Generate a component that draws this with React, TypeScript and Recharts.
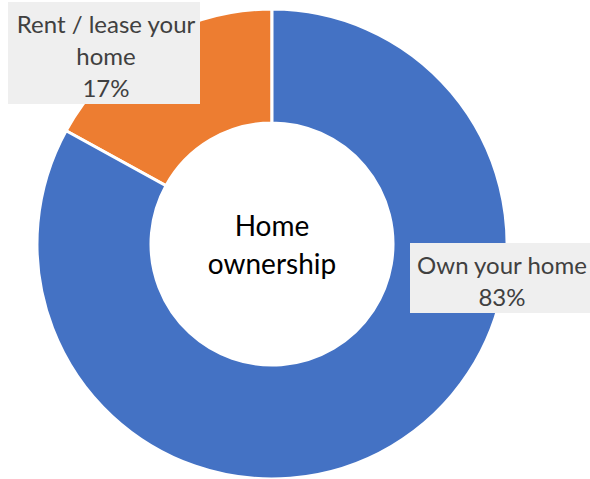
import { PieChart, Pie, Cell } from "recharts";

const categories = ["Rent / lease your home", "Own your home"];
const shares = [17, 83];
const colors = ["#ED7D31", "#4472C4"];
const centerTitle = ["Home", "ownership"];

const data = categories.map((name, i) => ({ name, value: shares[i] }));

// label boxes, placed relative to the pie centre
const boxes = [
  { dx: -168, dy: -191, w: 192, h: 102 },
  { dx: 228, dy: 34, w: 180, h: 70 }
];

function wrap(text: string, max: number) {
  const lines: string[] = [];
  let cur = "";
  text.split(" ").forEach((w) => {
    const next = cur ? cur + " " + w : w;
    if (next.length > max && cur) {
      lines.push(cur);
      cur = w;
    } else {
      cur = next;
    }
  });
  if (cur) lines.push(cur);
  return lines;
}

const renderLabel = (props: any) => {
  const { cx, cy, index, name, value } = props;
  const b = boxes[index];
  const x = cx + b.dx;
  const y = cy + b.dy;
  const lines = [...wrap(name, 17), value + "%"];
  const lh = 32;
  const top = y + 2 - ((lines.length - 1) * lh) / 2;
  return (
    <g>
      <rect x={x - b.w / 2} y={y - b.h / 2} width={b.w} height={b.h} fill="#EFEFEF" />
      <text textAnchor="middle" fill="#404040" fontSize={24} fontFamily="Lato">
        {lines.map((l, i) => (
          <tspan key={i} x={x + 2} y={top + i * lh} dominantBaseline="central">
            {l}
          </tspan>
        ))}
      </text>
      {index === 0 && (
        <text textAnchor="middle" fill="#000" fontSize={28} fontFamily="Lato">
          {centerTitle.map((t, i) => (
            <tspan key={t} x={cx} y={cy - 19 + i * 38} dominantBaseline="central">
              {t}
            </tspan>
          ))}
        </text>
      )}
    </g>
  );
};

export default function App() {
  return (
    <div style={{ position: "absolute", left: 0, top: 0, width: 590, height: 479, background: "#fff" }}>
      <PieChart width={590} height={479} margin={{ top: 0, right: 0, bottom: 0, left: 0 }}>
        <Pie
          data={data}
          dataKey="value"
          nameKey="name"
          cx={272}
          cy={244}
          innerRadius={121}
          outerRadius={235}
          startAngle={90}
          endAngle={450}
          stroke="#ffffff"
          strokeWidth={3}
          label={renderLabel}
          labelLine={false}
          isAnimationActive={false}
        >
          {data.map((d, i) => (
            <Cell key={d.name} fill={colors[i]} />
          ))}
        </Pie>
      </PieChart>
    </div>
  );
}
